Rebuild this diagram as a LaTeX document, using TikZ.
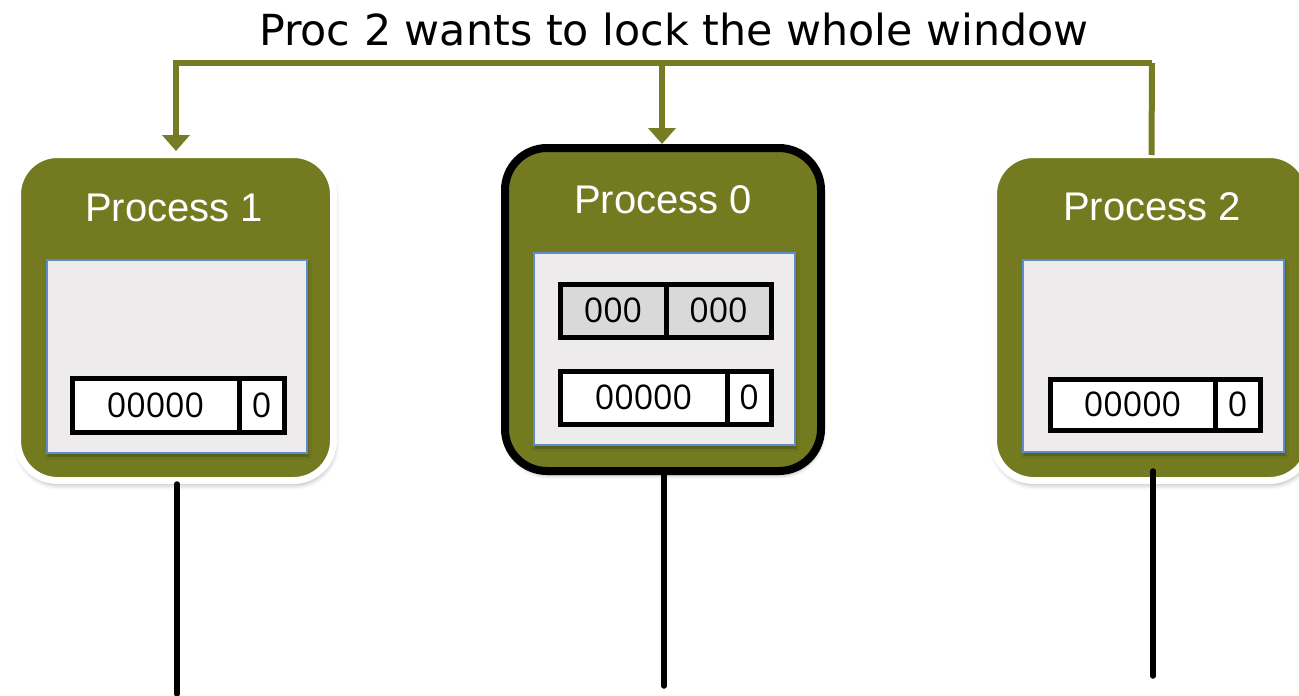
\documentclass[tikz,border=0pt]{standalone}
\usepackage{fontspec}
\setmainfont{Liberation Sans}
\newfontfamily\titlefont{DejaVu Sans}
\newfontfamily\cellfont{Open Sans}
\usetikzlibrary{arrows.meta,shadows.blur,calc}
\definecolor{olivebox}{RGB}{116,122,32}
\definecolor{olivearrow}{RGB}{118,124,36}
\definecolor{panelfill}{RGB}{237,235,236}
\definecolor{panelline}{RGB}{91,141,204}
\definecolor{cellgray}{RGB}{217,217,217}
\tikzset{
  procbox/.style={draw=white, line width=7pt, fill=olivebox, rounded corners=40pt,
    minimum width=316pt, minimum height=326pt, inner sep=0pt,
    blur shadow={shadow xshift=1pt, shadow yshift=-4pt, shadow blur radius=5pt, shadow opacity=35}},
  procactive/.style={draw=black, line width=8pt, fill=olivebox, rounded corners=42pt,
    minimum width=316pt, minimum height=323pt, inner sep=0pt,
    blur shadow={shadow xshift=1pt, shadow yshift=-4pt, shadow blur radius=4pt, shadow opacity=35}},
  proctitle/.style={text=white, font=\fontsize{40}{44}\selectfont, inner sep=0pt},
  panel/.style={draw=panelline, line width=1.2pt, fill=panelfill, inner sep=0pt,
    blur shadow={shadow xshift=1pt, shadow yshift=-3pt, shadow blur radius=3pt, shadow opacity=30}},
  cell/.style={draw=black, line width=5pt, fill=white, inner sep=0pt,
    font=\cellfont\fontsize{34}{38}\selectfont},
  graycell/.style={cell, fill=cellgray},
  bus/.style={draw=olivearrow, line width=6pt},
  busarrow/.style={bus, -{Triangle[width=27pt,length=16pt]}},
  wire/.style={draw=black, line width=5.5pt, line cap=round},
}
\begin{document}
\begin{tikzpicture}[x=1pt,y=-1pt]
\useasboundingbox (0,0) rectangle (1299,696);
% title
\node[font=\titlefont\fontsize{42.8}{48}\selectfont, inner sep=0pt] (title) at (674,30) {Proc 2 wants to lock the whole window};
% process boxes
\node[procbox] (p1) at (175.5,317.5) {};
\node[procactive] (p0) at (663,309.5) {};
\node[procbox] (p2) at (1151.5,317.5) {};
% titles
\node[proctitle] (t1) at (174,207.5) {Process 1};
\node[proctitle] (t0) at (663,200) {Process 0};
\node[proctitle] (t2) at (1152,207) {Process 2};
% panels
\node[panel, minimum width=260pt, minimum height=193pt] (w1) at (177,356.5) {};
\node[panel, minimum width=261pt, minimum height=192pt] (w0) at (664.5,349) {};
\node[panel, minimum width=261pt, minimum height=192pt] (w2) at (1153.5,356) {};
% cells process 1
\node[cell, minimum width=167pt, minimum height=54pt] (c1a) at (155.5,405) {00000};
\node[cell, minimum width=45pt, minimum height=54pt] (c1b) at (261.5,405) {0};
% cells process 0
\node[graycell, minimum width=106pt, minimum height=53pt] (g0a) at (613,310.5) {000};
\node[graycell, minimum width=105pt, minimum height=53pt] (g0b) at (718.5,310.5) {000};
\node[cell, minimum width=167pt, minimum height=53pt] (c0a) at (643.5,397.5) {00000};
\node[cell, minimum width=44pt, minimum height=53pt] (c0b) at (749,397.5) {0};
% cells process 2
\node[cell, minimum width=165pt, minimum height=51pt] (c2a) at (1132.5,404.5) {00000};
\node[cell, minimum width=45pt, minimum height=51pt] (c2b) at (1237.5,404.5) {0};
% bus
\coordinate (busR) at (1152,63);
\coordinate (busM) at (662,63);
\draw[bus] ($(p2.north)+(0,4)$) -- (busR);
\draw[busarrow] (busR) -| ($(p1.north)+(0.5,0)$);
\draw[busarrow] (busM) -- (p0.north -| busM);
% wires
\coordinate (e1) at (177,694);
\coordinate (e0) at (664,686);
\coordinate (e2) at (1153,676);
\draw[wire] (p1.south -| e1) -- (e1);
\draw[wire] (p0.south -| e0) -- (e0);
\draw[wire] ($(p2.south -| e2)+(0,-13)$) -- (e2);
\end{tikzpicture}
\end{document}
